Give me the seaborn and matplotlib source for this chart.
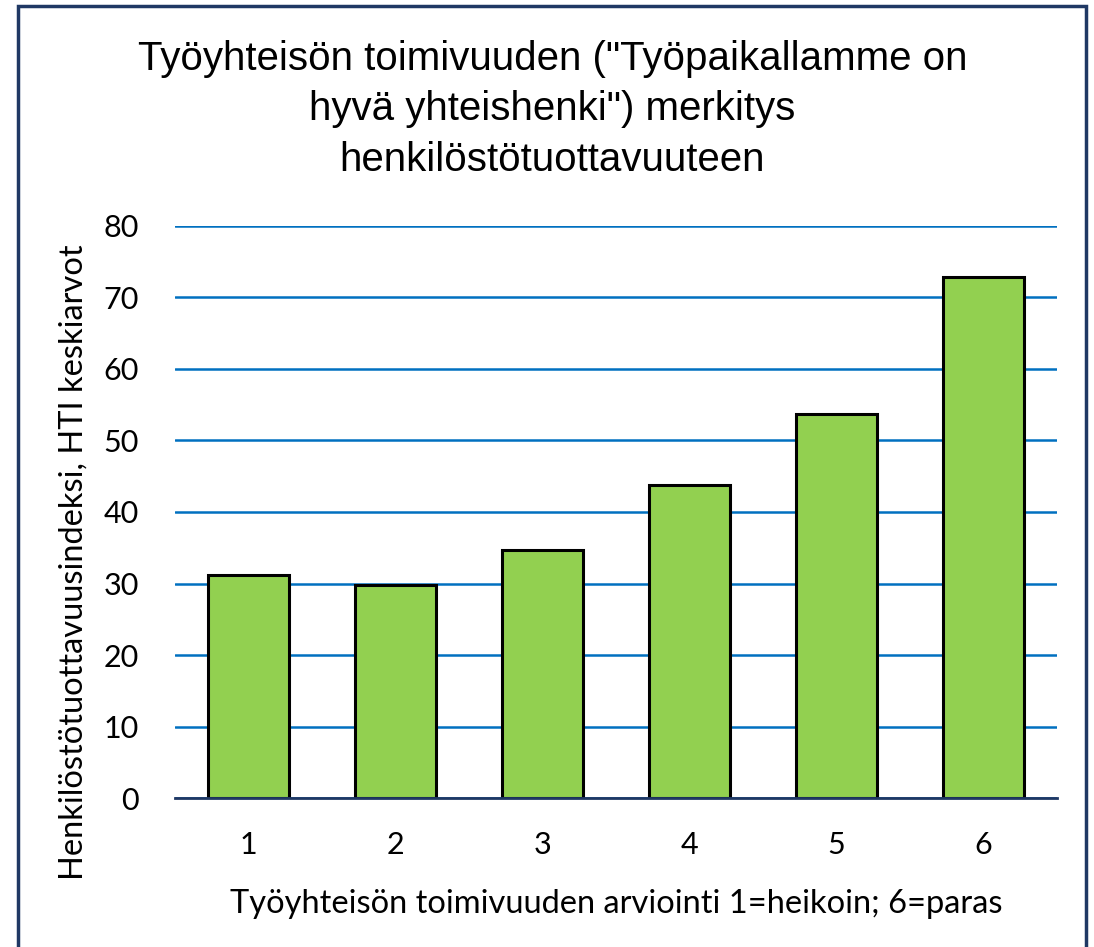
import matplotlib
matplotlib.use("Agg")
import matplotlib.pyplot as plt
import seaborn as sns
import pandas as pd
from matplotlib.patches import Rectangle

categories = ["1", "2", "3", "4", "5", "6"]
values = [31.2, 29.8, 34.7, 43.8, 53.7, 72.8]
yticks = [0, 10, 20, 30, 40, 50, 60, 70, 80]

title = 'Työyhteisön toimivuuden ("Työpaikallamme on\nhyvä yhteishenki") merkitys\nhenkilöstötuottavuuteen'
xlabel = "Työyhteisön toimivuuden arviointi 1=heikoin; 6=paras"
ylabel = "Henkilöstötuottavuusindeksi, HTI keskiarvot"

sns.set_theme(style="white")
plt.rcParams['font.family'] = ['Lato', 'DejaVu Sans']
plt.rcParams['text.color'] = 'black'
plt.rcParams['axes.labelcolor'] = 'black'

df = pd.DataFrame({"cat": categories, "val": values})

fig = plt.figure(figsize=(10.94, 9.47), dpi=100)
ax = fig.add_axes([0.16, 0.1573, 0.806, 0.6041])

sns.barplot(data=df, x="cat", y="val", ax=ax, color="#92D050", width=0.55,
            edgecolor="black", linewidth=2.2, saturation=1, zorder=3)

ax.set_ylim(0, 80)
ax.set_yticks(yticks)
ax.yaxis.grid(True, color="#0070C0", linewidth=1.8, zorder=0)
ax.set_axisbelow(True)
for s in ["top", "right", "left"]:
    ax.spines[s].set_visible(False)
ax.spines["bottom"].set_color("#1F3864")
ax.spines["bottom"].set_linewidth(2)
ax.spines["bottom"].set_zorder(4)
ax.tick_params(axis="both", length=0, labelsize=22, colors="black")
ax.tick_params(axis="y", pad=26)
ax.tick_params(axis="x", pad=24)
ax.set_xlabel(xlabel, fontsize=23.5, labelpad=21)
ax.set_ylabel(ylabel, fontsize=23.5, labelpad=7)
ax.yaxis.set_label_coords(-0.098, 0.413)

fig.text(0.505, 0.958, title, ha="center", va="top", fontsize=29,
         family=["Liberation Sans", "DejaVu Sans"], linespacing=1.42)

fig.patches.append(Rectangle((18/1094, -0.01), (1086-18)/1094, 1 - 6/947 + 0.01,
                             transform=fig.transFigure, fill=False,
                             edgecolor="#1F3864", linewidth=2.5))

fig.savefig("out.png", dpi=100)
